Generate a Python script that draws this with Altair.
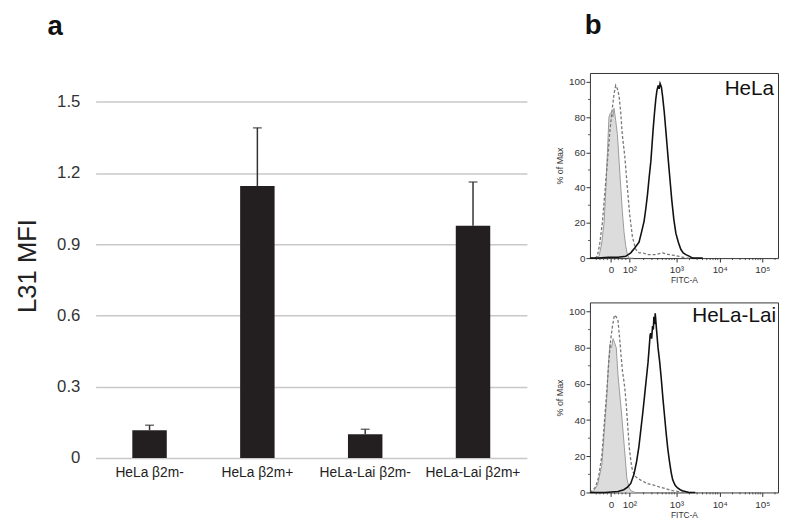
import math
import altair as alt
import pandas as pd

FONT = "Liberation Sans"

# ---------------- panel a: bar chart ----------------
groups = ["HeLa β2m-", "HeLa β2m+", "HeLa-Lai β2m-", "HeLa-Lai β2m+"]
mfi = [0.117, 1.145, 0.100, 0.978]
mfi_err = [0.021, 0.245, 0.021, 0.184]
y_ticks = [0, 0.3, 0.6, 0.9, 1.2, 1.5]

# ---------------- panel b: flow histograms ----------------
# x in display (logicle-like) units 0..1000, y in % of max
hela_ctrl_x = [0, 30, 48, 62, 75, 85, 93, 101, 108, 115, 122, 128, 137, 146, 155, 164, 172, 181, 190, 199, 208, 230]
hela_ctrl_y = [0, 0, 1, 8, 20, 40, 60, 80, 82, 83, 80, 85, 78, 70, 55, 40, 27, 15, 7, 2, 0, 0]
hela_neg_x = [0, 25, 39, 52, 66, 80, 93, 106, 119, 128, 137, 146, 155, 164, 172, 185, 199, 211, 226, 243, 261, 279, 310, 350, 386, 421, 450, 474, 510, 560]
hela_neg_y = [0, 0, 1, 8, 20, 38, 55, 72, 85, 93, 98, 96, 92, 82, 70, 58, 40, 25, 12, 5, 3, 3, 2, 2, 3, 2, 1.5, 1, 0, 0]
hela_pos_x = [0, 40, 100, 150, 190, 217, 240, 261, 275, 288, 297, 306, 315, 324, 330, 336, 343, 350, 356, 363, 368, 373, 380, 386, 395, 403, 410, 417, 426, 435, 446, 457, 470, 483, 496, 510, 530, 545, 600]
hela_pos_y = [0, 0, 0.5, 0.5, 1, 3, 6, 9, 15, 21, 28, 36, 46, 55, 64, 73, 82, 90, 95, 98, 96, 99, 97, 92, 83, 73, 64, 55, 44, 33, 22, 14, 9, 5, 3, 2, 1, 0, 0]

lai_ctrl_x = [0, 12, 20, 40, 63, 75, 89, 98, 106, 115, 123, 130, 140, 149, 157, 166, 175, 183, 196, 207, 217, 240]
lai_ctrl_y = [0, 0, 1, 4, 15, 32, 52, 70, 82, 80, 85, 83, 80, 65, 56, 46, 35, 25, 8, 3, 1, 0]
lai_neg_x = [0, 12, 30, 45, 63, 76, 89, 100, 111, 120, 130, 140, 149, 158, 166, 173, 180, 186, 192, 200, 209, 218, 226, 240, 252, 275, 303, 340, 371, 405, 440, 470, 492, 540]
lai_neg_y = [0, 1, 3, 8, 20, 38, 55, 72, 85, 92, 98, 97, 95, 85, 75, 67, 62, 57, 50, 38, 25, 17, 12, 9, 8, 6.5, 5, 4, 3, 2, 1, 0.5, 0, 0]
lai_pos_x = [0, 80, 149, 180, 200, 217, 234, 248, 260, 271, 282, 293, 303, 309, 315, 320, 323, 328, 333, 337, 340, 344, 347, 351, 354, 362, 371, 380, 388, 397, 405, 414, 423, 432, 440, 453, 466, 480, 492, 526, 560]
lai_pos_y = [0, 0, 0.5, 1.5, 3, 5, 10, 17, 25, 35, 45, 56, 66, 72, 80, 87, 88, 85, 92, 90, 97, 93, 99, 94, 90, 80, 72, 62, 52, 42, 33, 24, 17, 11, 7, 4, 2.5, 1.5, 1, 0, 0]

# display positions of the labelled FITC-A values and their labels
fitc_major_pos = [112, 210, 460, 690, 916]
fitc_major_lbl = ["0", "10²", "10³", "10⁴", "10⁵"]
pct_major = [0, 20, 40, 60, 80, 100]
pct_minor = [10, 30, 50, 70, 90]


# minor tick positions (display units) for the biexponential axis
def disp(v):
    if v < 100:
        return 112 + v / 100 * (210 - 112)
    if v < 1000:
        return 210 + math.log10(v / 100) * (460 - 210)
    if v < 10000:
        return 460 + math.log10(v / 1000) * (690 - 460)
    return 690 + math.log10(v / 10000) * (916 - 690)


fitc_minor = [disp(v) for v in [-80, -60, -40, -20, 20, 40, 60, 80]]
for dec in [100, 1000, 10000, 100000]:
    for m in range(2, 10):
        fitc_minor.append(disp(m * dec))
fitc_minor = [round(p, 1) for p in fitc_minor if 0 < p < 1000]

# ---------------- build bar chart ----------------
bar_df = pd.DataFrame({
    "group": groups,
    "mfi": mfi,
    "upper": [m + e for m, e in zip(mfi, mfi_err)],
})

x_bar = alt.X(
    "group:N", sort=groups,
    scale=alt.Scale(paddingInner=0, paddingOuter=0),
    axis=alt.Axis(title=None, labelAngle=0, ticks=False, domain=False,
                  labelFontSize=14, labelPadding=8, labelColor="#222",
                  labelFont=FONT),
)
y_bar = alt.Y(
    "mfi:Q",
    scale=alt.Scale(domain=[0, 1.621], nice=False, zero=True),
    axis=alt.Axis(
        title="L31 MFI", values=y_ticks,
        labelExpr="datum.value == 0 ? '0' : format(datum.value, '.1f')",
        grid=True, gridColor="#c8c8c8", gridWidth=1.5,
        ticks=False, tickSize=0, domain=False,
        labelFontSize=17, labelColor="#333", labelPadding=16, labelFont=FONT,
        titleFontSize=26, titleFontWeight="normal", titleColor="#222",
        titlePadding=16, titleFont=FONT,
    ),
)

bars = alt.Chart(bar_df).mark_bar(size=35, color="#231f20").encode(x=x_bar, y=y_bar)
err = alt.Chart(bar_df).mark_rule(color="#333", strokeWidth=1.5).encode(
    x=alt.X("group:N", sort=groups), y="mfi:Q", y2="upper:Q")
cap = alt.Chart(bar_df).mark_tick(color="#333", thickness=1.5, size=9).encode(
    x=alt.X("group:N", sort=groups), y="upper:Q")

bar_chart = alt.layer(bars, err, cap).properties(
    width=438, height=391,
    title=alt.TitleParams("a", anchor="start", frame="group", dx=-49, offset=33),
)

# ---------------- build histograms ----------------
x_label_expr = " : ".join(
    f"datum.value == {p} ? '{l}'" for p, l in zip(fitc_major_pos, fitc_major_lbl)
) + " : ''"


def hist_panel(cx, cy, nx, ny, px, py, name, w, h, name_dx, name_dy):
    xs = alt.Scale(domain=[0, 1000], nice=False, zero=False)
    ys = alt.Scale(domain=[0, 105], nice=False)
    xax = alt.Axis(
        title="FITC-A", values=fitc_major_pos, labelExpr=x_label_expr,
        grid=False, domain=False, tickColor="#333", tickSize=4,
        labelOverlap=False, labelFlush=False,
        labelFontSize=10, labelColor="#333", labelPadding=3, labelFont=FONT,
        titleFontSize=8.5, titleFontWeight="normal", titleColor="#333",
        titlePadding=1, titleFont=FONT,
    )
    yax = alt.Axis(
        title="% of Max", values=pct_major, labelExpr="'' + datum.value",
        grid=False, domain=False, tickColor="#333", tickSize=4,
        labelOverlap=False, labelFlush=False, labelBound=False,
        labelFontSize=10, labelColor="#333", labelPadding=1,
        labelFont=FONT,
        titleFontSize=9, titleFontWeight="normal", titleColor="#333",
        titlePadding=4, titleFont=FONT,
    )
    ctrl = pd.DataFrame({"x": cx, "y": cy})
    neg = pd.DataFrame({"x": nx, "y": ny})
    pos = pd.DataFrame({"x": px, "y": py})
    area = alt.Chart(ctrl).mark_area(color="#dcdcdc", opacity=1).encode(
        x=alt.X("x:Q", scale=xs, axis=xax), y=alt.Y("y:Q", scale=ys, axis=yax))
    outline = alt.Chart(ctrl).mark_line(color="#9a9a9a", strokeWidth=1).encode(
        x=alt.X("x:Q", axis=xax), y=alt.Y("y:Q", axis=yax))
    dashed = alt.Chart(neg).mark_line(color="#777", strokeWidth=1.3,
                                      strokeDash=[3, 2]).encode(
        x=alt.X("x:Q", axis=xax), y=alt.Y("y:Q", axis=yax))
    black = alt.Chart(pos).mark_line(color="#111", strokeWidth=1.6).encode(
        x=alt.X("x:Q", axis=xax), y=alt.Y("y:Q", axis=yax))
    xminor = alt.Chart(pd.DataFrame({"x": fitc_minor})).mark_rule(
        color="#333", strokeWidth=0.8).encode(
        x=alt.X("x:Q", axis=xax), y=alt.value(h), y2=alt.value(h + 2))
    yminor = alt.Chart(pd.DataFrame({"y": pct_minor})).mark_rule(
        color="#333", strokeWidth=0.8).encode(
        y=alt.Y("y:Q", axis=yax), x=alt.value(0), x2=alt.value(-2))
    lbl = alt.Chart(pd.DataFrame({"name": [name]})).mark_text(
        align="right", baseline="top", fontSize=21, font=FONT, color="#111"
    ).encode(text="name:N", x=alt.value(w - name_dx), y=alt.value(name_dy))
    return alt.layer(area, outline, dashed, black, xminor, yminor, lbl).properties(
        width=w, height=h,
        view=alt.ViewBackground(stroke="#333", strokeWidth=1),
    )


hist_top = hist_panel(hela_ctrl_x, hela_ctrl_y, hela_neg_x, hela_neg_y,
                      hela_pos_x, hela_pos_y, "HeLa", 191, 188, 4, 5)
hist_bot = hist_panel(lai_ctrl_x, lai_ctrl_y, lai_neg_x, lai_neg_y,
                      lai_pos_x, lai_pos_y, "HeLa-Lai", 191, 193, 2, 3)

hist_col = alt.vconcat(
    hist_top, hist_bot, spacing=17,
    title=alt.TitleParams("b", anchor="start", frame="bounds", dx=30, offset=33),
)

chart = alt.hconcat(bar_chart, hist_col, spacing=28).properties(
    padding={"left": 7, "top": 0, "right": 0, "bottom": 0},
).configure_view(strokeWidth=0).configure_title(
    fontSize=28, font=FONT, fontWeight="bold", color="#111"
).configure_axis(labelOverlap=False).resolve_scale(
    x="independent", y="independent")

chart.save("out.html", embed_options={"renderer": "svg", "actions": False})
